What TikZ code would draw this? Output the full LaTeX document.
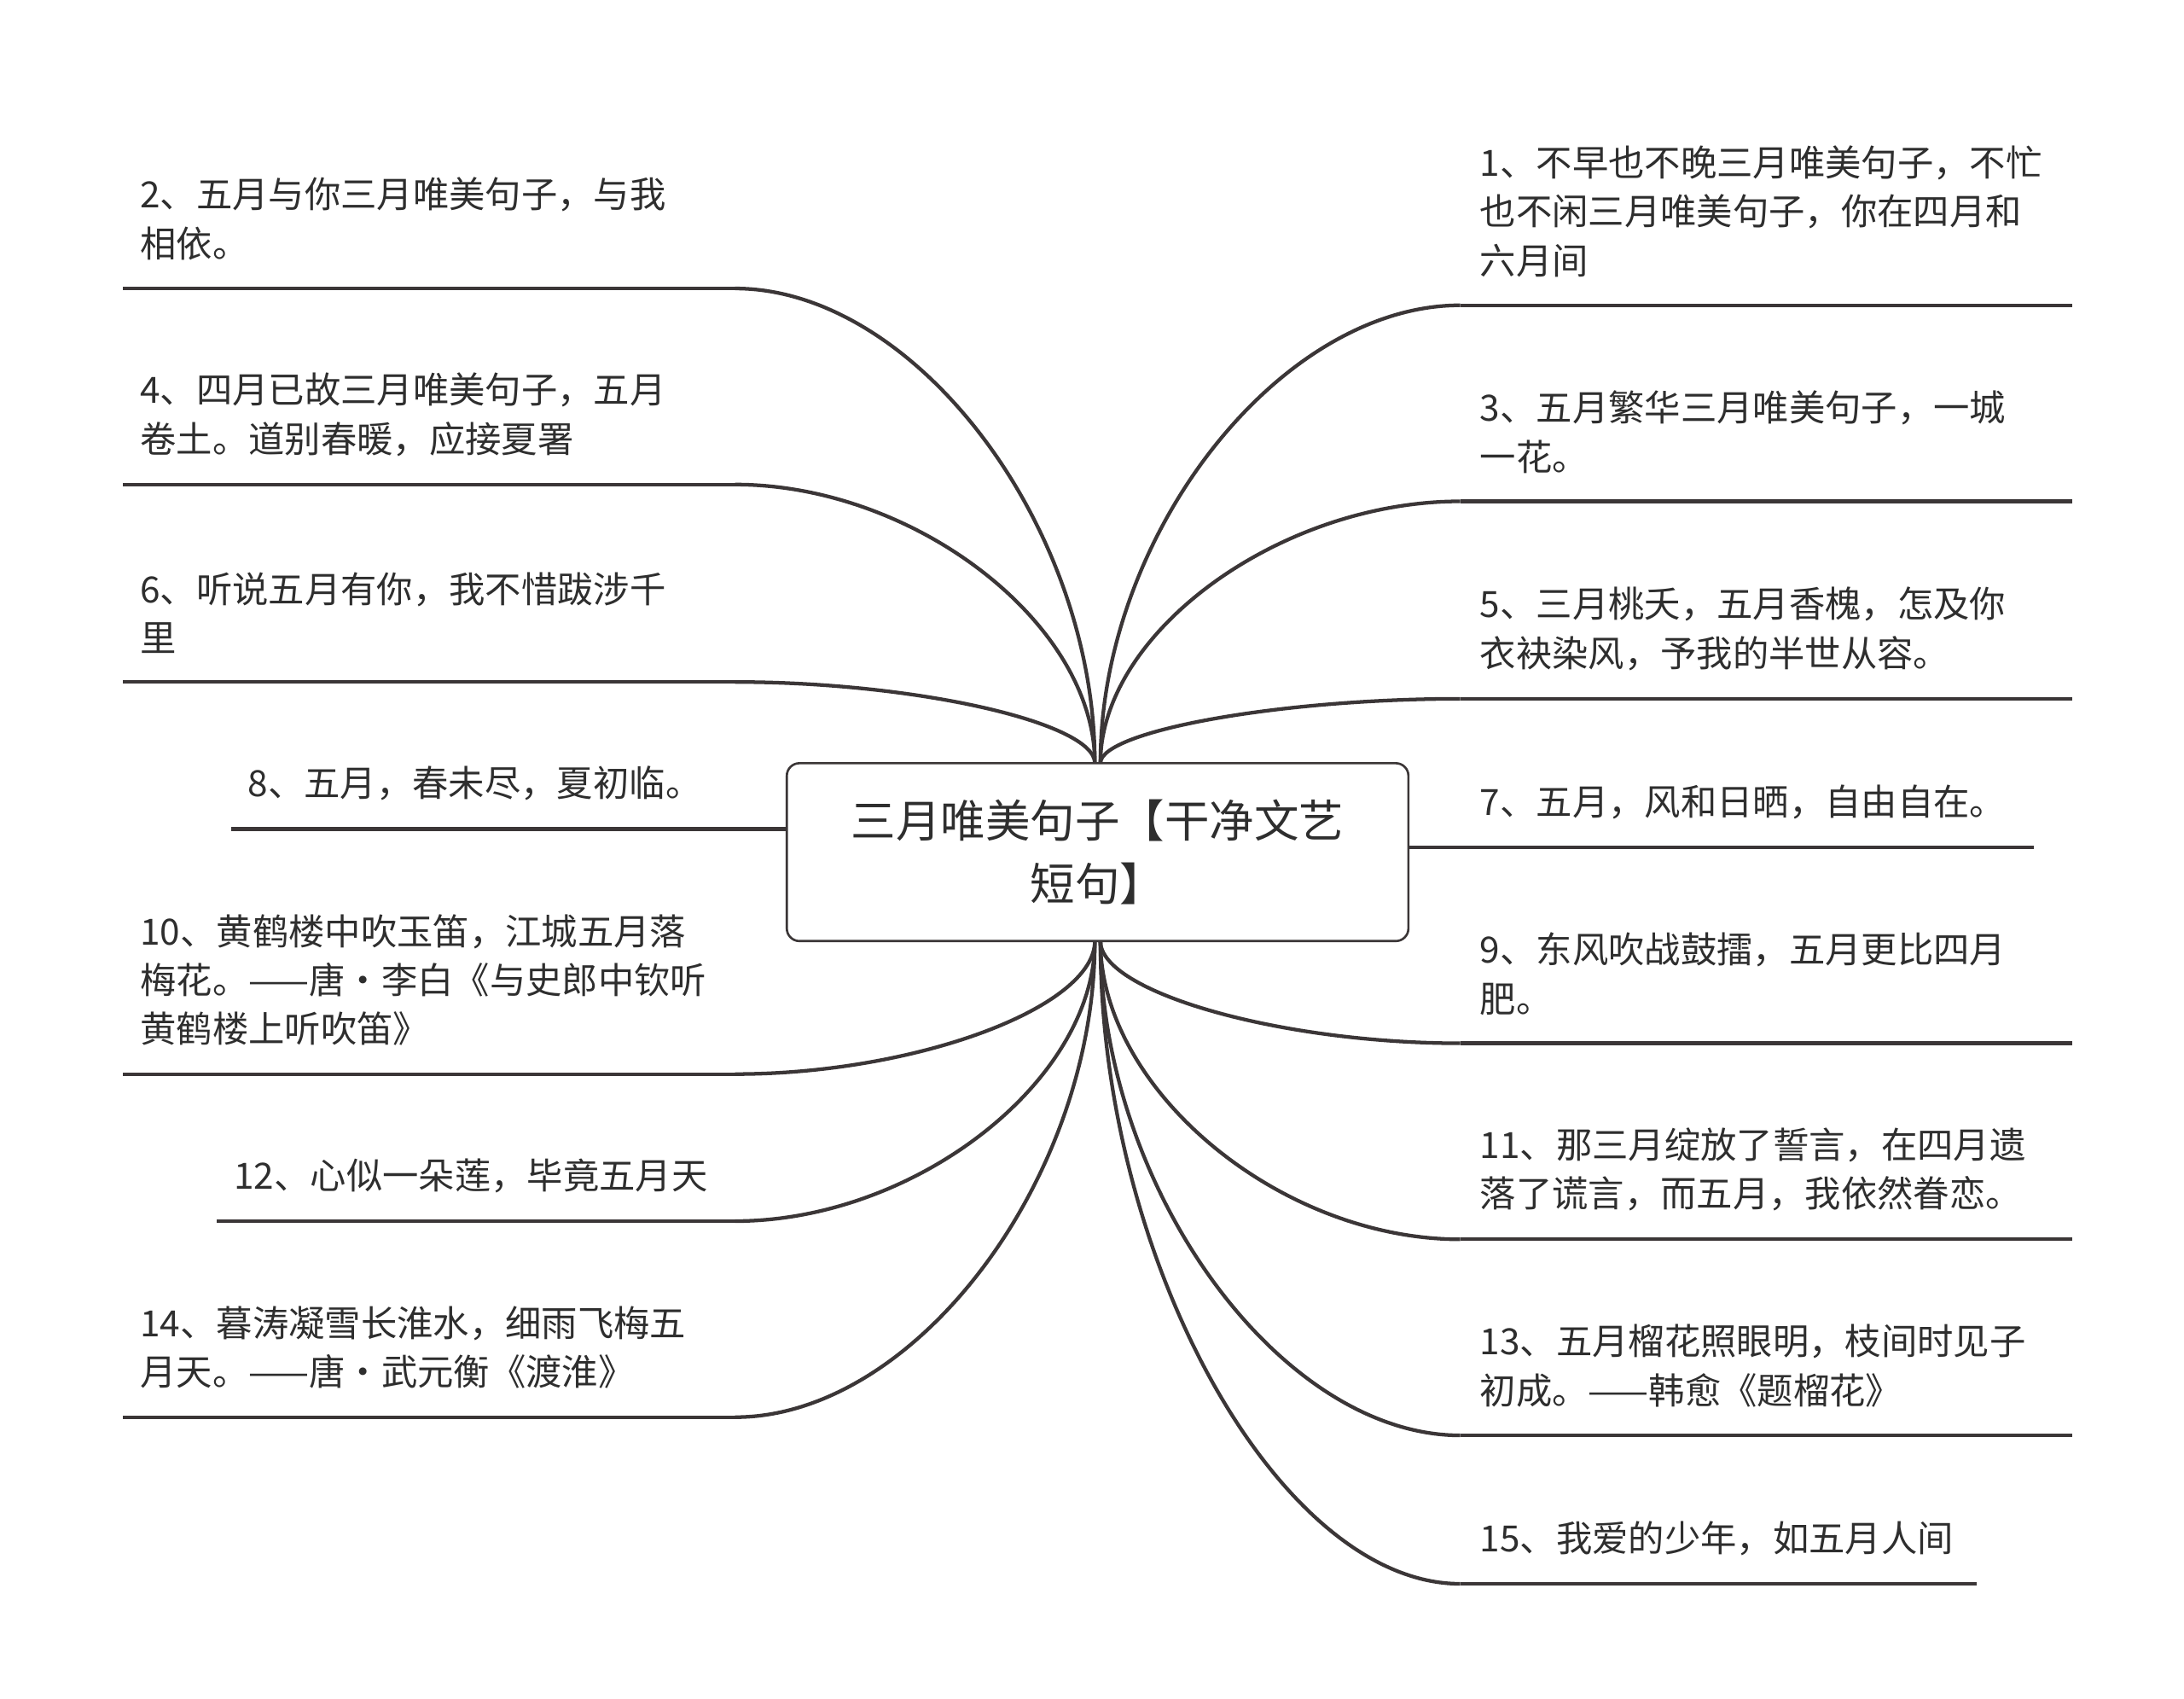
\documentclass[tikz,border=0pt]{standalone}
\usepackage{fontspec}
\setmainfont{Noto Sans CJK SC}
\begin{document}
\begin{tikzpicture}[x=1pt,y=-1pt,
  conn/.style={draw=lc,line width=2.6pt},
  txt/.style={anchor=south west,inner sep=0pt,align=left,font=\fontsize{25.8}{35}\selectfont,text=tc}]
\definecolor{lc}{HTML}{3B3637}
\definecolor{tc}{HTML}{2E2E2E}
\useasboundingbox[fill=white] (0,0) rectangle (1560,1213);
\newcommand\branch[4]{\draw[conn] (#1,#2) .. controls ({(#1+#3)/2},#2) and (#3,{(#2+#4)/2}) .. (#3,#4);}
% center
\node[draw=lc,line width=1.6pt,rounded corners=9pt,minimum width=444pt,minimum height=127pt,align=center,font=\fontsize{32}{45}\selectfont,text=tc] (c) at (784,608.5) {三月唯美句子【干净文艺\\短句】};
% left lines
\foreach \y/\xs in {206/88,346/88,487/88,767/88,872/155,1012/88}{
  \draw[conn] (\xs,\y) -- (525,\y);
  \branch{525}{\y}{782}{\ifnum\y<545 545\else 672\fi}
}
\draw[conn] (165,592) -- (c.west |- 0,592);
% right lines
\foreach \y/\xe in {218/1480,358/1480,499/1480,745/1480,885/1480,1025/1480,1131/1412}{
  \draw[conn] (1043,\y) -- (\xe,\y);
  \branch{1043}{\y}{786}{\ifnum\y<545 545\else 672\fi}
}
\draw[conn] (c.east |- 0,605) -- (1453,605);
% left texts
\node[txt] (t2) at (100,186) {2、五月与你三月唯美句子，与我\\相依。};
\node[txt] (t4) at (100,326) {4、四月已故三月唯美句子，五月\\卷土。道别春暖，应接夏署};
\node[txt] (t6) at (100,467) {6、听说五月有你，我不惜跋涉千\\里};
\node[txt] (t8) at (177,572) {8、五月，春未尽，夏初临。};
\node[txt] (t10) at (100,747) {10、黄鹤楼中吹玉笛，江城五月落\\梅花。——唐·李白《与史郎中钦听\\黄鹤楼上听吹笛》};
\node[txt] (t12) at (167,852) {12、心似一朵莲，毕竟五月天};
\node[txt] (t14) at (100,992) {14、暮涛凝雪长淮水，细雨飞梅五\\月天。——唐·武元衡《渡淮》};
% right texts
\node[txt] (t1) at (1057,198) {1、不早也不晚三月唯美句子，不忙\\也不闲三月唯美句子，你在四月和\\六月间};
\node[txt] (t3) at (1057,338) {3、五月繁华三月唯美句子，一城\\一花。};
\node[txt] (t5) at (1057,479) {5、三月桃夭，五月香槐，怎及你\\衣袂染风，予我的半世从容。};
\node[txt] (t7) at (1057,585) {7、五月，风和日晒，自由自在。};
\node[txt] (t9) at (1057,725) {9、东风吹战鼓擂，五月更比四月\\肥。};
\node[txt] (t11) at (1057,865) {11、那三月绽放了誓言，在四月遗\\落了谎言，而五月，我依然眷恋。};
\node[txt] (t13) at (1057,1005) {13、五月榴花照眼明，枝间时见子\\初成。——韩愈《题榴花》};
\node[txt] (t15) at (1057,1111) {15、我爱的少年，如五月人间};
\end{tikzpicture}
\end{document}
